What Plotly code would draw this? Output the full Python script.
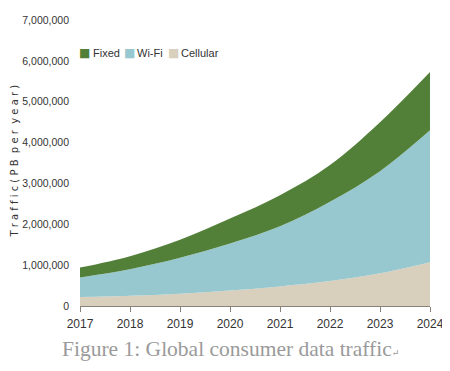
import plotly.graph_objects as go

years = [2017, 2018, 2019, 2020, 2021, 2022, 2023, 2024]
cellular = [220000, 250000, 300000, 380000, 480000, 610000, 800000, 1070000]
wifi = [480000, 650000, 880000, 1150000, 1470000, 1940000, 2500000, 3230000]
fixed = [240000, 320000, 440000, 610000, 760000, 900000, 1200000, 1430000]
y_ticks = [0, 1000000, 2000000, 3000000, 4000000, 5000000, 6000000, 7000000]
legend_names = ["Fixed", "Wi-Fi", "Cellular"]

colors = {"Cellular": "#d8cfbd", "Wi-Fi": "#97c8cf", "Fixed": "#538039"}

fig = go.Figure()
for name, vals in [("Cellular", cellular), ("Wi-Fi", wifi), ("Fixed", fixed)]:
    fig.add_trace(go.Scatter(
        x=years, y=vals, name=name, stackgroup="one", mode="lines",
        line=dict(width=0, shape="spline", smoothing=1.0, color=colors[name]),
        fillcolor=colors[name], showlegend=False))

annotations = []
sq_x = [0.013, 0.140, 0.267]
tx_x = [0.032, 0.157, 0.283]
for i, nm in enumerate(legend_names):
    annotations.append(dict(text="■", xref="paper", yref="paper", x=sq_x[i], y=0.885,
                            xanchor="center", yanchor="middle", showarrow=False,
                            font=dict(family="DejaVu Sans", size=12, color=colors[nm])))
    annotations.append(dict(text=nm, xref="paper", yref="paper", x=tx_x[i], y=0.885,
                            xanchor="left", yanchor="middle", showarrow=False,
                            font=dict(size=11, color="#333")))
annotations.append(dict(
    text="T r a f f i c ( P B  p e r  y e a r )", textangle=-90,
    xref="paper", yref="paper", x=-0.187, y=0.507, xanchor="center", yanchor="middle",
    showarrow=False, font=dict(family="DejaVu Sans", size=10, color="#333")))
annotations.append(dict(
    text="Figure 1: Global consumer data traffic<span style='font-size:9px'>↵</span>",
    xref="paper", yref="paper", x=0.43, y=-0.15, xanchor="center", yanchor="middle",
    showarrow=False,
    font=dict(family="Liberation Serif, DejaVu Serif, serif", size=21.5, color="#9a9a9a")))

fig.update_layout(
    width=450, height=371,
    margin=dict(l=72, r=28, t=12, b=73),
    paper_bgcolor="white", plot_bgcolor="white",
    font=dict(family="Liberation Sans Narrow, Liberation Sans, sans-serif", size=12, color="#333"),
    showlegend=False,
    xaxis=dict(range=[2017, 2024], tickvals=years, ticktext=[str(y) for y in years],
               showgrid=False, zeroline=False, showline=True, linecolor="#8a8178",
               linewidth=1, ticks="outside", ticklen=5, tickcolor="#8a8178", automargin=False,
               ticklabelstandoff=2),
    yaxis=dict(range=[0, 7000000], tickvals=y_ticks, automargin=False,
               ticktext=[f"{v:,}" for v in y_ticks], showgrid=False, zeroline=False,
               showline=False, ticks="", ticklabelstandoff=10, tickfont=dict(size=10.5)),
    annotations=annotations,
)

fig.write_html("out.html")
